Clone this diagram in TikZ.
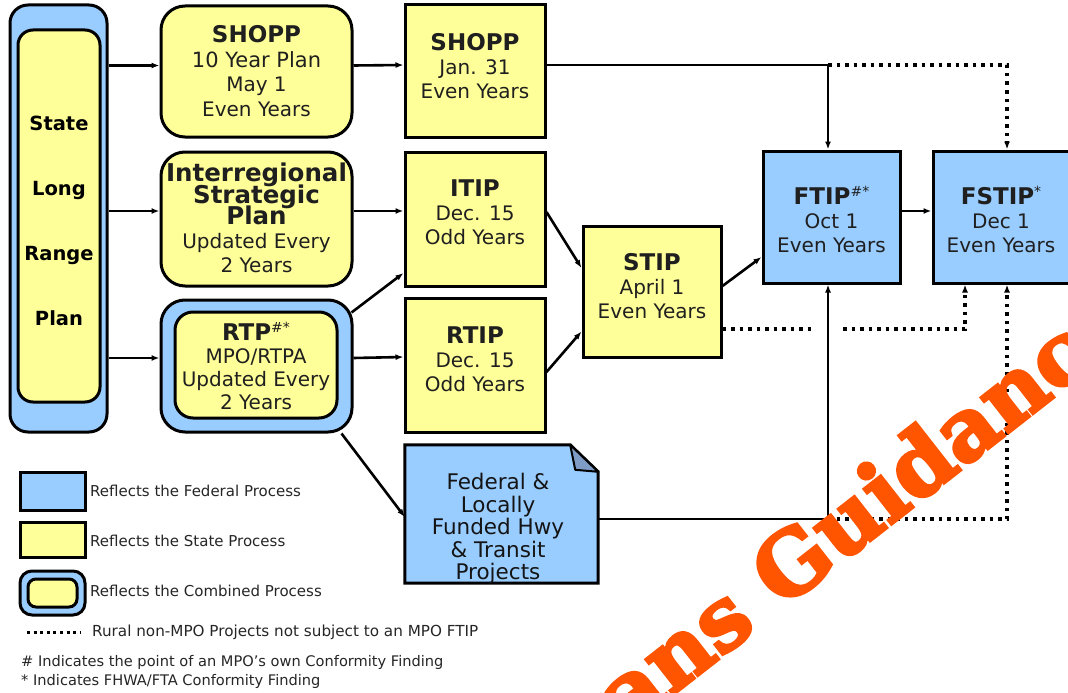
\documentclass[tikz,border=0pt]{standalone}
\usepackage{fontspec}
\setmainfont{DejaVu Sans}
\newfontfamily\wmfont[BoldFeatures={FakeBold=3.5}]{DejaVu Serif}
\usetikzlibrary{arrows.meta}
\definecolor{fedblue}{HTML}{99CCFF}
\definecolor{styellow}{HTML}{FFFF99}
\definecolor{wmorange}{HTML}{FF5500}
\definecolor{foldc}{HTML}{7F9CC6}
\newcommand\ttl[1]{{\fontsize{23}{24}\selectfont\bfseries #1}}
\newcommand\bigttl[1]{{\fontsize{24.5}{24}\selectfont\bfseries #1}}
\newcommand\sups[1]{\raisebox{8pt}{\fontsize{14}{14}\selectfont #1}}
\begin{document}
\begin{tikzpicture}[x=1pt,y=-1pt,
  fedbox/.style={draw, line width=3pt, fill=fedblue, inner sep=0pt},
  stbox/.style={draw, line width=3pt, fill=styellow, inner sep=0pt},
  txt/.style={align=center, inner sep=0pt, text=black!88, font=\fontsize{20}{24}\selectfont},
  legtxt/.style={anchor=west, inner sep=0pt, text=black!85, font=\fontsize{15}{17}\selectfont},
  ln/.style={line width=2.6pt},
  arr/.style={line width=2.6pt, -{Latex[length=8pt,width=6pt]}},
  dot/.style={line width=3.5pt, dash pattern=on 3.5pt off 5pt},
  dotarr/.style={dot, -{Latex[length=8pt,width=6pt]}}]
\useasboundingbox (0,0) rectangle (1068,693);
\fill[white] (0,0) rectangle (1068,693);

% left long range plan
\node[fedbox, rounded corners=18pt, minimum width=97pt, minimum height=427pt] (lrp) at (58.5,218.5) {};
\node[stbox, rounded corners=15pt, minimum width=82pt, minimum height=372pt] (lrpin) at (59,216) {};
\node[txt, text=black, font=\fontsize{19.5}{65}\selectfont\bfseries] (lrptxt) at (59,221) {State\\Long\\Range\\Plan};

% column 2
\node[stbox, rounded corners=24pt, minimum width=191pt, minimum height=131pt] (shopp10) at (256.5,71.5) {};
\node[txt, font=\fontsize{20}{24.5}\selectfont] (shopp10t) at (256.5,71) {\ttl{SHOPP}\\{\fontsize{21}{24.5}\selectfont 10 Year Plan}\\May 1\\Even Years};

\node[stbox, rounded corners=24pt, minimum width=191pt, minimum height=134pt] (irsp) at (256.5,219) {};
\node[txt] (irspt) at (256.5,218) {\bigttl{Interregional}\\[-2.5pt]\bigttl{Strategic}\\[-2.5pt]\bigttl{Plan}\\Updated Every\\2 Years};

\node[fedbox, rounded corners=24pt, minimum width=191pt, minimum height=132pt] (rtpo) at (256.5,366) {};
\node[stbox, rounded corners=18pt, minimum width=162pt, minimum height=106pt] (rtpi) at (256,365) {};
\node[txt, font=\fontsize{20}{23}\selectfont] (rtpt) at (256,366) {\ttl{RTP}\sups{\#*}\\MPO/RTPA\\Updated Every\\2 Years};

% column 3
\node[stbox, minimum width=140pt, minimum height=132pt] (shopp) at (475,71) {};
\node[txt] (shoppt) at (475,66) {\ttl{SHOPP}\\Jan. 31\\Even Years};
\node[stbox, minimum width=140pt, minimum height=134pt] (itip) at (475,219) {};
\node[txt] (itipt) at (475,212) {\ttl{ITIP}\\Dec. 15\\Odd Years};
\node[stbox, minimum width=140pt, minimum height=134pt] (rtip) at (475,365) {};
\node[txt] (rtipt) at (475,359) {\ttl{RTIP}\\Dec. 15\\Odd Years};

% federal doc
\node[minimum width=193pt, minimum height=138pt, inner sep=0pt] (fed) at (501.5,514) {};
\draw[fedbox] (fed.north west) -- ([xshift=-28pt]fed.north east) -- ([yshift=-27pt]fed.north east) -- (fed.south east) -- (fed.south west) -- cycle;
\draw[line width=2pt, fill=foldc, line join=round] ([xshift=-28pt]fed.north east) -- ([xshift=-23pt,yshift=-25pt]fed.north east) -- ([yshift=-27pt]fed.north east) -- cycle;
\node[txt, text=black!92, font=\fontsize{21.5}{22.5}\selectfont] (fedt) at (498,529) {Federal \&\\Locally\\Funded Hwy\\\& Transit\\Projects};

% STIP, FTIP, FSTIP
\node[stbox, minimum width=138pt, minimum height=131pt] (stip) at (652,291.5) {};
\node[txt] (stipt) at (652,286) {\ttl{STIP}\\April 1\\Even Years};
\node[fedbox, minimum width=137pt, minimum height=132pt] (ftip) at (831.5,217) {};
\node[txt] (ftipt) at (831.5,219) {\ttl{FTIP}\sups{\#*}\\Oct 1\\Even Years};
\node[fedbox, minimum width=142pt, minimum height=132pt] (fstip) at (1004,217) {};
\node[txt] (fstipt) at (1001,219) {\ttl{FSTIP}\sups{*}\\Dec 1\\Even Years};

% connectors from long range plan
\path ([yshift=6pt]shopp10.west) coordinate (s10w)
      ([yshift=8pt]irsp.west) coordinate (irw)
      ([yshift=8pt]rtpo.west) coordinate (rtpw);
\draw[arr] (lrp.east |- s10w) -- (s10w);
\draw[arr] (lrp.east |- irw) -- (irw);
\draw[arr] (lrp.east |- rtpw) -- (rtpw);
\draw[arr] ([yshift=6pt]shopp10.east) -- ([yshift=6pt]shopp.west);
\draw[arr] ([yshift=8pt]irsp.east) -- ([yshift=8pt]itip.west);
\draw[arr] ([yshift=8pt]rtpo.east) -- ([yshift=8pt]rtip.west);
\draw[arr] ([xshift=-2pt,yshift=-14pt]rtpo.north east) -- ([yshift=-54pt]itip.west);
\draw[arr] ([xshift=-12pt]rtpo.south east) -- ([yshift=-3pt]fed.west);
\draw[arr] ([yshift=7pt]itip.east) -- ([yshift=23.5pt]stip.west);
\draw[arr] ([yshift=-7pt]rtip.east) -- ([yshift=-40pt]stip.west);
\draw[arr] ([yshift=5.5pt]stip.east) -- ([yshift=-40pt]ftip.west);
\draw[arr] ([yshift=6pt]ftip.east) -- ([yshift=6pt]fstip.west);

% routes to FTIP / FSTIP
\path ([yshift=6pt]shopp.east) coordinate (she)
      ([xshift=-3.5pt]ftip.north) coordinate (ftn)
      ([xshift=-3.5pt]ftip.south) coordinate (fts)
      ([xshift=3pt]fstip.north) coordinate (fsn)
      ([xshift=3pt]fstip.south) coordinate (fss)
      ([xshift=-39pt]fstip.south) coordinate (fss2)
      ([yshift=-5pt]fed.east) coordinate (fde)
      ([yshift=-37.5pt]stip.east) coordinate (ste);
\coordinate (j1) at (ftn |- she);
\coordinate (j2) at (fts |- fde);
\coordinate (x0) at (ftn |- ste);
\coordinate (g1) at ([xshift=-14pt]x0);
\coordinate (g2) at ([xshift=15pt]x0);
\draw[dotarr] (j1) -| (fsn);
\draw[dotarr] (j2) -| (fss);
\draw[dot] (ste) -- (g1);
\draw[dotarr] (g2) -| (fss2);
\draw[arr] (she) -- (j1) -- (ftn);
\draw[arr] (fde) -- (j2) -- (fts);

% legend
\node[fedbox, minimum width=65pt, minimum height=38pt] (lg1) at (52.5,491) {};
\node[legtxt] (lg1t) at (90,491) {Reflects the Federal Process};
\node[stbox, minimum width=65pt, minimum height=35pt] (lg2) at (52.5,539.5) {};
\node[legtxt] (lg2t) at (90,541) {Reflects the State Process};
\node[fedbox, rounded corners=12pt, minimum width=65pt, minimum height=44pt] (lg3) at (52.5,593) {};
\node[stbox, rounded corners=8pt, minimum width=49pt, minimum height=28pt] (lg3i) at (52.5,593) {};
\node[legtxt] (lg3t) at (90,591) {Reflects the Combined Process};
\coordinate (ld1) at (27,632);
\coordinate (ld2) at (80,632);
\draw[line width=3pt, dash pattern=on 3pt off 3.6pt] (ld1) -- (ld2);
\node[legtxt, font=\fontsize{15.2}{17}\selectfont] (lg4t) at (92,632) {Rural non-MPO Projects not subject to an MPO FTIP};
\node[legtxt, font=\fontsize{14.6}{17}\selectfont] (lg5t) at (21,662) {\# Indicates the point of an MPO's own Conformity Finding};
\node[legtxt, font=\fontsize{14.6}{17}\selectfont] (lg6t) at (21,681) {* Indicates FHWA/FTA Conformity Finding};

% watermark
\node[rotate=38, anchor=base east, inner sep=0pt, text=wmorange, font=\wmfont\bfseries\fontsize{86}{86}\selectfont] (wm) at (1140,330) {Caltrans Guidance};
\end{tikzpicture}
\end{document}
